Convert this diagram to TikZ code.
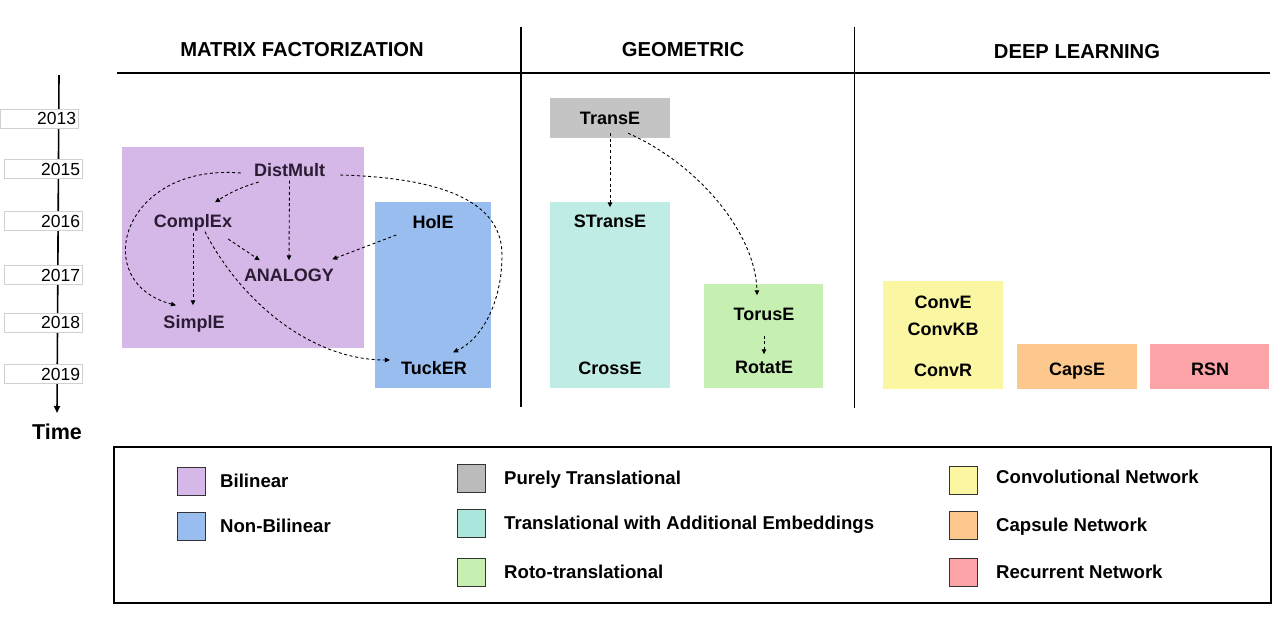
\documentclass[tikz,border=0pt]{standalone}
\usepackage{fontspec}
\setmainfont{Liberation Sans}
\usetikzlibrary{calc,arrows.meta}
\definecolor{cBil}{HTML}{D5B7E8}
\definecolor{cNon}{HTML}{98BDEE}
\definecolor{cGray}{HTML}{C4C4C4}
\definecolor{cGrayL}{HTML}{BBBBBB}
\definecolor{cTeal}{HTML}{BFECE4}
\definecolor{cTealL}{HTML}{AAE6DC}
\definecolor{cGreen}{HTML}{C6EFB2}
\definecolor{cYel}{HTML}{FBF6A2}
\definecolor{cOra}{HTML}{FCC88E}
\definecolor{cPink}{HTML}{FDA4A8}
\definecolor{cPurTxt}{HTML}{2B1C33}
\definecolor{cYearBd}{HTML}{D0D0D0}
\begin{document}
\begin{tikzpicture}[x=1pt,y=-1pt,
  lbl/.style={font=\fontsize{18}{20}\selectfont\bfseries, inner sep=1pt, text height=13pt, text depth=0pt},
  plbl/.style={lbl, text=cPurTxt},
  hdr/.style={font=\fontsize{20.2}{22}\selectfont\bfseries, inner sep=0pt},
  area/.style={inner sep=0pt, draw=none},
  yearbox/.style={draw=cYearBd, line width=0.6pt, fill=white, font=\fontsize{17.5}{19}\selectfont, text width=74pt, align=right, inner sep=2pt, minimum height=19pt, text height=12.5pt, text depth=0pt},
  darr/.style={-{Triangle[length=5pt,width=4.5pt]}, dash pattern=on 3pt off 2.6pt, line width=0.9pt},
  swatch/.style={draw=black!80, line width=0.9pt, minimum width=28pt, minimum height=28pt, inner sep=0pt},
  legtxt/.style={font=\fontsize{18.6}{20}\selectfont\bfseries, anchor=west, inner sep=0pt, text height=13pt, text depth=0pt}
]
\useasboundingbox (0,0) rectangle (1287,622);

% ---------- timeline ----------
\coordinate (tl0) at (59,75);
\coordinate (tl1) at (57,413);
\draw[line width=1.6pt, -{Triangle[length=7pt,width=6pt]}] (tl0) -- (tl1);
\node[yearbox, text width=74pt] (y13) at (39,118.5) {2013};
\node[yearbox] (y15) at (43,169) {2015};
\node[yearbox] (y16) at (43,221) {2016};
\node[yearbox] (y17) at (43,275) {2017};
\node[yearbox] (y18) at (43,322.5) {2018};
\node[yearbox] (y19) at (43,374) {2019};
\node[font=\fontsize{21.5}{24}\selectfont\bfseries, inner sep=0pt] (time) at (57,432) {Time};

% ---------- headers ----------
\node[hdr] (hMF) at (302,50) {MATRIX FACTORIZATION};
\node[hdr] (hGE) at (683,50) {GEOMETRIC};
\node[hdr] (hDL) at (1077,52) {DEEP LEARNING};
\coordinate (hl0) at (117,73);
\coordinate (hl1) at (1270,73);
\draw[line width=1.8pt] (hl0) -- (hl1);
\coordinate (v1a) at (521,27); \coordinate (v1b) at (521,407);
\coordinate (v2a) at (854.5,27); \coordinate (v2b) at (854.5,408);
\draw[line width=1.8pt] (v1a) -- (v1b);
\draw[line width=1.8pt] (v2a) -- (v2b);

% ---------- coloured areas ----------
\node[area, fill=cBil, minimum width=242pt, minimum height=201pt] (aBil) at (243,247.5) {};
\node[area, fill=cNon, minimum width=116pt, minimum height=186pt] (aNon) at (433,295) {};
\node[area, fill=cTeal, minimum width=120pt, minimum height=186pt] (aTeal) at (610,295) {};
\node[area, fill=cGreen, minimum width=119pt, minimum height=104pt] (aGreen) at (763.5,336) {};
\node[area, fill=cYel, minimum width=120pt, minimum height=108pt] (aYel) at (943,335) {};
\node[area, fill=cOra, minimum width=120pt, minimum height=45pt] (aOra) at (1077,366.5) {};
\node[area, fill=cPink, minimum width=119pt, minimum height=45pt] (aPink) at (1209.5,366.5) {};
\node[lbl, fill=cGray, minimum width=120pt, minimum height=40pt] (te) at (610,118) {TransE};

% ---------- model labels ----------
\node[plbl] (dm) at (289.5,170) {DistMult};
\node[plbl] (cx) at (193,221) {ComplEx};
\node[plbl] (an) at (289,275) {ANALOGY};
\node[plbl] (si) at (194,322) {SimplE};
\node[lbl] (ho) at (433,222) {HolE};
\node[lbl] (tk) at (434,368) {TuckER};
\node[lbl] (st) at (610,221) {STransE};
\node[lbl] (ce) at (610,368) {CrossE};
\node[lbl] (to) at (764,314) {TorusE};
\node[lbl] (ro) at (764,367) {RotatE};
\node[lbl] (cve) at (943,302) {ConvE};
\node[lbl] (ckb) at (943,329) {ConvKB};
\node[lbl] (cvr) at (943,370) {ConvR};
\node[lbl] (cap) at (1077,369) {CapsE};
\node[lbl] (rsn) at (1210,369) {RSN};

% ---------- connectors ----------
\draw[darr] ($(dm.west)+(-12,3)$) .. controls (122,163) and (88,282) .. ($(si.north)+(-18,-9)$);
\draw[darr] ($(dm.west)+(6,12)$) to[bend right=8] ($(cx.north)+(22,-11)$);
\draw[darr] ($(dm.south)+(0,3)$) -- ($(an.north)+(0,-7)$);
\draw[darr] ($(cx.east)+(-5,18)$) -- ($(an.north west)+(17,-7)$);
\draw[darr] ($(cx.south)+(0,4)$) -- ($(si.north)+(-1,-9)$);
\draw[darr] ($(cx.south)+(12,3)$) .. controls (240,300) and (310,360) .. ($(tk.west)+(-10,-8)$);
\draw[darr] ($(ho.west)+(-15,13)$) -- ($(an.north east)+(-3,-8)$);
\draw[darr] ($(dm.east)+(14,5)$) .. controls (450,178) and (502,205) .. (502,255) .. controls (502,305) and (480,340) .. ($(tk.north)+(19,-8)$);
\draw[darr] ($(te.south)+(0,-5)$) -- ($(st.north)+(0,-6)$);
\draw[darr] ($(te.south)+(18,-5)$) .. controls (700,165) and (756,235) .. ($(to.north)+(-7,-11)$);
\draw[darr] ($(to.south)+(0,14)$) -- ($(ro.north)+(0,-5)$);

% ---------- legend ----------
\coordinate (lg0) at (114,447);
\coordinate (lg1) at (1271,603);
\draw[line width=1.4pt] (lg0) rectangle (lg1);
\node[swatch, fill=cBil] (sBil) at (191,481) {};
\node[legtxt] (tBil) at (220,481) {Bilinear};
\node[swatch, fill=cNon] (sNon) at (191,526) {};
\node[legtxt] (tNon) at (220,526) {Non-Bilinear};
\node[swatch, fill=cGrayL] (sGray) at (471.5,478) {};
\node[legtxt] (tGray) at (504,478) {Purely Translational};
\node[swatch, fill=cTealL] (sTeal) at (471.5,523) {};
\node[legtxt] (tTeal) at (504,523) {Translational with Additional Embeddings};
\node[swatch, fill=cGreen] (sGreen) at (471.5,572.5) {};
\node[legtxt] (tGreen) at (504,572) {Roto-translational};
\node[swatch, fill=cYel] (sYel) at (963,480.5) {};
\node[legtxt] (tYel) at (996,477) {Convolutional Network};
\node[swatch, fill=cOra] (sOra) at (963,525) {};
\node[legtxt] (tOra) at (996,525) {Capsule Network};
\node[swatch, fill=cPink] (sPink) at (963,572) {};
\node[legtxt] (tPink) at (996,572) {Recurrent Network};
\end{tikzpicture}
\end{document}
